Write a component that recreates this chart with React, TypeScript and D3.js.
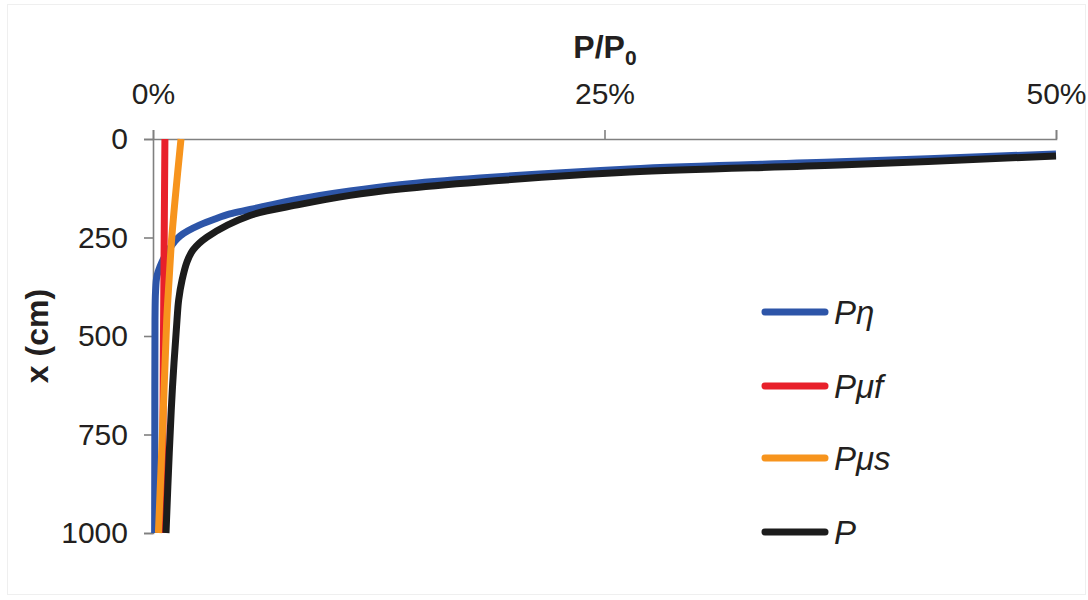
import React, { useEffect, useRef } from "react";
import * as d3 from "d3";

// ---- data ----
const xTicks = [0, 0.25, 0.5];
const yTicks = [0, 250, 500, 750, 1000];

const blueDepth = [38, 58, 76, 99, 116, 132, 152, 179, 190, 203, 218, 233, 246, 259, 285, 312, 348, 388, 459, 750, 1000];
const bluePct = [50, 38, 26.4, 18.1, 13.68, 10.91, 8.14, 5.37, 4.26, 3.43, 2.6, 1.94, 1.5, 1.22, 0.82, 0.5, 0.22, 0.14, 0.11, 0.1, 0.09];

const redDepth = [0, 250, 500, 750, 1000];
const redPct = [0.66, 0.62, 0.58, 0.55, 0.52];

const orangeDepth = [0, 155, 256, 358, 459, 739, 1000];
const orangePct = [1.55, 1.22, 1.03, 0.89, 0.76, 0.53, 0.3];

const blackDepth = [43, 66, 84, 109, 127, 143, 166, 194, 249, 282, 312, 358, 409, 459, 629, 797, 1000];
const blackPct = [50, 38, 26.4, 18.1, 13.68, 10.91, 8.14, 5.37, 2.99, 2.21, 1.88, 1.61, 1.42, 1.33, 1.08, 0.9, 0.72];

const seriesNames = ["Pη", "Pμf", "Pμs", "P"];
const seriesColors = ["#2d55a8", "#e8202a", "#f7941d", "#1c1c1c"];
const seriesDepths = [blueDepth, redDepth, orangeDepth, blackDepth];
const seriesPcts = [bluePct, redPct, orangePct, blackPct];

const W = 1088;
const H = 600;
const FONT = "'Liberation Sans', Arial, Helvetica, sans-serif";

export default function App() {
  const gx = useRef<SVGGElement>(null);
  const gy = useRef<SVGGElement>(null);

  const x = d3.scaleLinear().domain([0, 0.5]).range([153, 1056]);
  const y = d3.scaleLinear().domain([0, 1000]).range([139, 533]);

  useEffect(() => {
    const ax = d3
      .axisTop(x)
      .tickValues(xTicks)
      .tickSize(9)
      .tickPadding(26)
      .tickFormat(d3.format(".0%") as any);
    const sx = d3.select(gx.current!);
    sx.call(ax as any);
    sx.select(".domain").attr("stroke", "#808080").attr("stroke-width", 1.6);
    sx.selectAll(".tick line").attr("stroke", "#808080").attr("stroke-width", 1.6);
    sx.selectAll(".tick text")
      .attr("fill", "#231f20")
      .style("font-family", FONT)
      .style("font-size", "30px");

    const ay = d3
      .axisLeft(y)
      .tickValues(yTicks)
      .tickSize(9)
      .tickPadding(16)
      .tickFormat(d3.format("d") as any);
    const sy = d3.select(gy.current!);
    sy.call(ay as any);
    sy.select(".domain").attr("stroke", "#808080").attr("stroke-width", 1.6);
    sy.selectAll(".tick line").attr("stroke", "#808080").attr("stroke-width", 1.6);
    sy.selectAll(".tick text")
      .attr("fill", "#231f20")
      .style("font-family", FONT)
      .style("font-size", "30px");
  }, []);

  const line = d3
    .line<[number, number]>()
    .x((d) => x(d[0] / 100))
    .y((d) => y(d[1]))
    .curve(d3.curveCatmullRom.alpha(0.5));

  const legendY = [312, 386, 458, 532];

  return (
    <svg
      width={W}
      height={H}
      style={{ position: "fixed", left: 0, top: 0, background: "#fff" }}
      fontFamily={FONT}
    >
      <rect x={7.5} y={4.5} width={1078} height={590} fill="none" stroke="#efefef" strokeWidth={1} />
      <g ref={gx} transform={`translate(0,${y(0)})`} />
      <g ref={gy} transform={`translate(${x(0)},0)`} />

      {seriesNames.map((name, i) => (
        <path
          key={name}
          d={line(seriesDepths[i].map((dv, k) => [seriesPcts[i][k], dv] as [number, number])) || ""}
          fill="none"
          stroke={seriesColors[i]}
          strokeWidth={7}
          strokeLinejoin="round"
        />
      ))}

      {/* title */}
      <text x={605} y={58} textAnchor="middle" fontWeight="bold" fontSize={32} fill="#231f20">
        P/P<tspan fontSize={21} dy={7}>0</tspan>
      </text>

      {/* y label */}
      <text
        transform={`translate(48,${(y(0) + y(1000)) / 2}) rotate(-90)`}
        textAnchor="middle"
        fontWeight="bold"
        fontSize={32}
        fill="#231f20"
      >
        x (cm)
      </text>

      {/* legend */}
      {seriesNames.map((name, i) => (
        <g key={"lg" + name}>
          <line
            x1={765}
            x2={825}
            y1={legendY[i]}
            y2={legendY[i]}
            stroke={seriesColors[i]}
            strokeWidth={7}
            strokeLinecap="round"
          />
          <text x={834} y={legendY[i] + 12} fontSize={33} fontStyle="italic" fill="#231f20">
            {name}
          </text>
        </g>
      ))}
    </svg>
  );
}
